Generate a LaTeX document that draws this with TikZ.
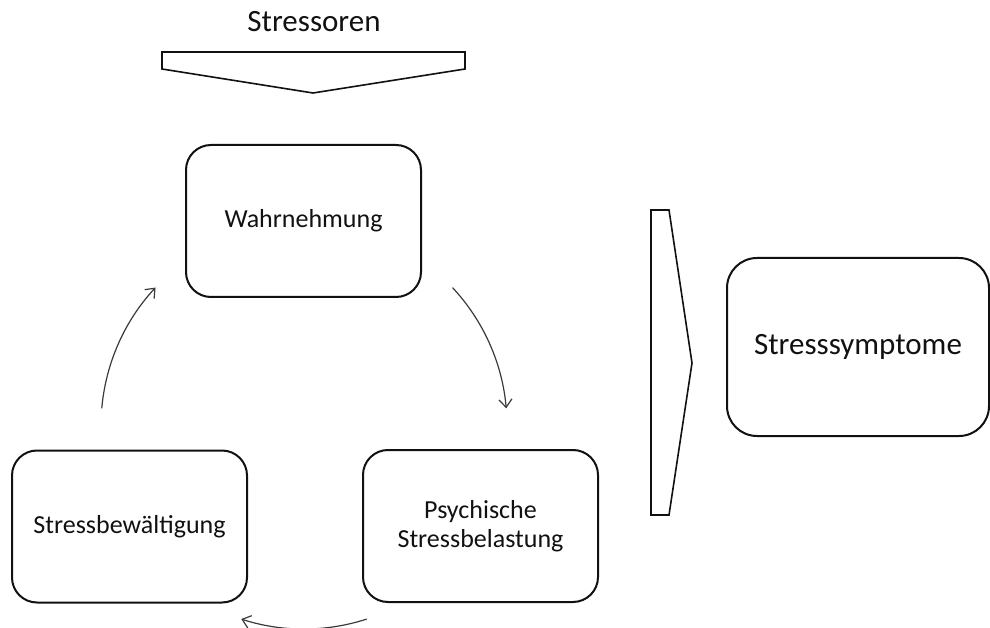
\documentclass[tikz,border=0pt]{standalone}
\usepackage{fontspec}
\setmainfont{Carlito}
\usetikzlibrary{arrows.meta,calc}
\definecolor{lnblack}{HTML}{111111}
\definecolor{arrgray}{HTML}{3A3A3A}

\begin{document}
\begin{tikzpicture}[>={Straight Barb[length=8pt,width=13pt]},x=1pt,y=1pt]

  \tikzset{
    stagebox/.style={draw=lnblack,line width=2pt,rounded corners=25pt,
      minimum width=235pt,minimum height=152pt,inner sep=0pt,align=center,
      text=lnblack,font=\fontsize{26}{29}\selectfont},
    cyclearrow/.style={arrgray,line width=1.2pt,->},
    chevron/.style={draw=lnblack,line width=1.6pt,fill=white}
  }

  \useasboundingbox (0,0) rectangle (990,627);

  % =====================================================================
  % 1. STRESSOREN INPUT
  % =====================================================================

  \node[text=lnblack,font=\fontsize{31}{36}\selectfont,anchor=base] (stressoren)
        at (314,595) {Stressoren};
  \draw[chevron] (162,575) -- (465,575) -- (465,558) -- (313,534) -- (162,558) -- cycle;

  % =====================================================================
  % 2. STRESS CYCLE
  % =====================================================================

  \node[stagebox] (wahrnehmung)  at (303.5,406)  {Wahrnehmung};
  \node[stagebox] (belastung)    at (480.5,101)  {Psychische\\Stressbelastung};
  \node[stagebox] (bewaeltigung) at (129.5,100.5) {Stressbewältigung};

  % arrows on a common circle round the cycle
  \coordinate (ctr) at (304,201);
  \coordinate (arcWB) at ($(ctr)+(43:203)$);
  \coordinate (arcBS) at ($(ctr)+(-72:203)$);
  \coordinate (arcSW) at ($(ctr)+(175:203)$);

  \draw[cyclearrow] (arcWB) arc[start angle=43,end angle=5,radius=203pt];
  \draw[cyclearrow] (arcBS) arc[start angle=-72,end angle=-108,radius=203pt];
  \draw[cyclearrow] (arcSW) arc[start angle=175,end angle=137,radius=203pt];

  % =====================================================================
  % 3. STRESSSYMPTOME OUTPUT
  % =====================================================================

  \draw[chevron] (651,417) -- (669,417) -- (692,264) -- (669,112) -- (651,112) -- cycle;
  \node[stagebox,minimum width=262pt,minimum height=178pt,rounded corners=30pt,
        font=\fontsize{31}{36}\selectfont] (symptome) at (858,280) {Stresssymptome};

\end{tikzpicture}
\end{document}
